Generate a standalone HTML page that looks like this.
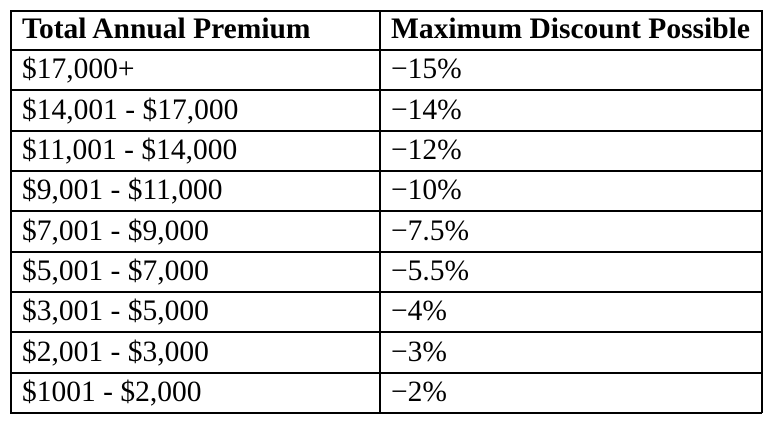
<!DOCTYPE html>
<html><head><style>
body{margin:0;background:#fff;width:772px;height:423px;position:relative;font-family:"Liberation Serif",serif;color:#000}
.h{position:absolute;left:10px;width:752px;height:1.5px;background:#000}
.v{position:absolute;top:10px;height:403px;width:1.5px;background:#000}
.t{position:absolute;font-size:29.5px;line-height:40px;white-space:nowrap}
.b{font-weight:bold}
</style></head><body>
<div class="h" style="top:10px"></div>
<div class="h" style="top:49px"></div>
<div class="h" style="top:89px"></div>
<div class="h" style="top:130px"></div>
<div class="h" style="top:170px"></div>
<div class="h" style="top:210px"></div>
<div class="h" style="top:251px"></div>
<div class="h" style="top:291px"></div>
<div class="h" style="top:331px"></div>
<div class="h" style="top:372px"></div>
<div class="h" style="top:412px"></div>
<div class="v" style="left:10px"></div>
<div class="v" style="left:379px"></div>
<div class="v" style="left:761px"></div>
<div class="t b" style="left:22px;top:9px">Total Annual Premium</div>
<div class="t b" style="left:391px;top:9px">Maximum Discount Possible</div>
<div class="t" style="left:22px;top:49px">$17,000+</div><div class="t" style="left:391px;top:49px">−15%</div>
<div class="t" style="left:22px;top:90px">$14,001 - $17,000</div><div class="t" style="left:391px;top:90px">−14%</div>
<div class="t" style="left:22px;top:130px">$11,001 - $14,000</div><div class="t" style="left:391px;top:130px">−12%</div>
<div class="t" style="left:22px;top:170px">$9,001 - $11,000</div><div class="t" style="left:391px;top:170px">−10%</div>
<div class="t" style="left:22px;top:211px">$7,001 - $9,000</div><div class="t" style="left:391px;top:211px">−7.5%</div>
<div class="t" style="left:22px;top:251px">$5,001 - $7,000</div><div class="t" style="left:391px;top:251px">−5.5%</div>
<div class="t" style="left:22px;top:291px">$3,001 - $5,000</div><div class="t" style="left:391px;top:291px">−4%</div>
<div class="t" style="left:22px;top:332px">$2,001 - $3,000</div><div class="t" style="left:391px;top:332px">−3%</div>
<div class="t" style="left:22px;top:372px">$1001 - $2,000</div><div class="t" style="left:391px;top:372px">−2%</div>
</body></html>
